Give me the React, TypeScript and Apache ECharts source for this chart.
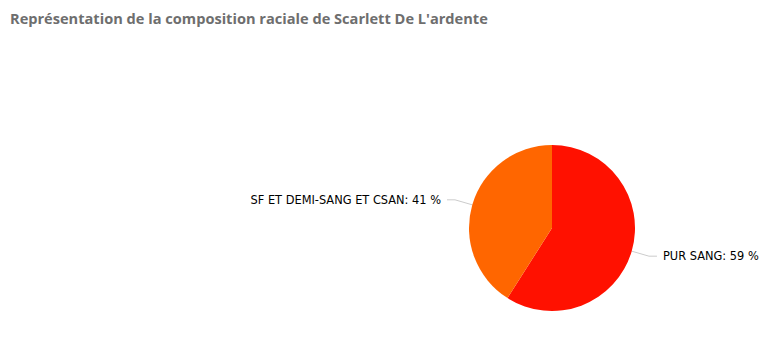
import React, { useEffect, useRef } from "react";
import * as echarts from "echarts";

const titleText = "Représentation de la composition raciale de Scarlett De L'ardente";
const categories = ["PUR SANG", "SF ET DEMI-SANG ET CSAN"];
const values = [59, 41];
const colors = ["#FF1100", "#FF6600"];

export default function App() {
  const ref = useRef<HTMLDivElement>(null);
  useEffect(() => {
    if (!ref.current) return;
    const chart = echarts.init(ref.current, undefined, { renderer: "svg" });
    chart.setOption({
      animation: false,
      backgroundColor: "#ffffff",
      title: {
        text: titleText,
        left: 5,
        top: 5,
        textStyle: {
          fontFamily: "Open Sans",
          fontSize: 14.6,
          fontWeight: "bold",
          color: "#6e6e6e",
        },
      },
      series: [
        {
          type: "pie",
          center: [552, 228],
          radius: 83,
          startAngle: 90,
          clockwise: true,
          data: categories.map((c, i) => ({
            name: c,
            value: values[i],
            itemStyle: { color: colors[i] },
          })),
          label: {
            formatter: (p: any) => `${p.name}: ${p.value} %`,
            fontFamily: "DejaVu Sans",
            fontSize: 11.4,
            color: "#000",
            distanceToLabelLine: 6,
          },
          labelLine: {
            length: 18,
            length2: 8,
            lineStyle: { color: "#cccccc", width: 1 },
          },
          emphasis: { disabled: true },
        },
      ],
    });
    return () => chart.dispose();
  }, []);
  return (
    <div
      ref={ref}
      style={{ position: "fixed", left: 0, top: 0, width: 778, height: 358 }}
    />
  );
}
